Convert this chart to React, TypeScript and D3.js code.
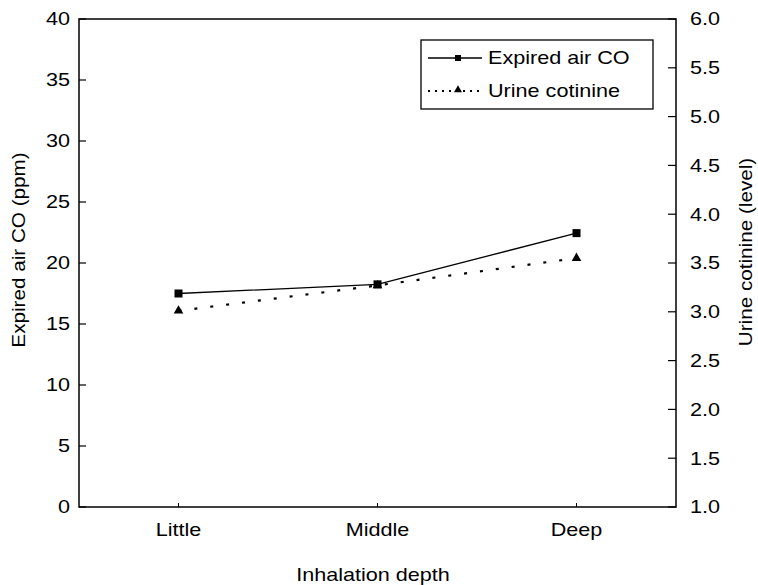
import React from "react";
import * as d3 from "d3";

const categories = ["Little", "Middle", "Deep"];
const coValues = [17.5, 18.25, 22.45];
const cotinineValues = [3.01, 3.27, 3.55];
const leftTicks = [0, 5, 10, 15, 20, 25, 30, 35, 40];
const rightTicks = [1.0, 1.5, 2.0, 2.5, 3.0, 3.5, 4.0, 4.5, 5.0, 5.5, 6.0];
const seriesNames = ["Expired air CO", "Urine cotinine"];

const FS = 18;
const SX = 1.2;

function T({ x, y, anchor = "start", rotate = 0, sx = SX, children }: any) {
  return (
    <g transform={`translate(${x},${y}) rotate(${rotate}) scale(${sx},1)`}>
      <text x={0} y={0} dy="0.35em" textAnchor={anchor} fontSize={FS}>{children}</text>
    </g>
  );
}

export default function App() {
  const W = 758, H = 585;
  const left = 79, right = 676, top = 19, bottom = 507;
  const x = d3.scaleBand<string>().domain(categories).range([left, right]);
  const yL = d3.scaleLinear().domain([0, 40]).range([bottom, top]);
  const yR = d3.scaleLinear().domain([1, 6]).range([bottom, top]);
  const cx = (c: string) => (x(c) as number) + x.bandwidth() / 2;
  const lineCO = d3.line<number>().x((_, i) => cx(categories[i])).y((d) => yL(d));
  const lineCot = d3.line<number>().x((_, i) => cx(categories[i])).y((d) => yR(d));
  const tri = d3.symbol().type(d3.symbolTriangle).size(40)();
  const font = "'Liberation Sans', Arial, sans-serif";
  const lgX = 421, lgY = 40, lgW = 232, lgH = 69;
  const r1 = lgY + 18, r2 = lgY + 51;
  return (
    <svg width={W} height={H} style={{ position: "absolute", left: 0, top: 0, background: "#fff" }} fontFamily={font}>
      <rect x={0} y={0} width={W} height={H} fill="#fff" />
      <rect x={left} y={top} width={right - left} height={bottom - top} fill="none" stroke="#000" strokeWidth={1.5} />
      {leftTicks.map((t) => (
        <g key={"l" + t}>
          <line x1={left} x2={left + 7} y1={yL(t)} y2={yL(t)} stroke="#000" strokeWidth={1.2} />
          <T x={left - 9} y={yL(t)} anchor="end">{t}</T>
        </g>
      ))}
      {rightTicks.map((t) => (
        <g key={"r" + t}>
          <line x1={right - 8} x2={right} y1={yR(t)} y2={yR(t)} stroke="#000" strokeWidth={1.2} />
          <T x={right + 14} y={yR(t)}>{t.toFixed(1)}</T>
        </g>
      ))}
      {categories.map((c) => (
        <g key={c}>
          <line x1={cx(c)} x2={cx(c)} y1={bottom} y2={bottom - 4} stroke="#000" strokeWidth={1} />
          <T x={cx(c)} y={530} anchor="middle">{c}</T>
        </g>
      ))}
      <T x={373} y={575} anchor="middle">Inhalation depth</T>
      <T x={19} y={250} anchor="middle" rotate={-90} sx={1.15}>Expired air CO (ppm)</T>
      <T x={746} y={252} anchor="middle" rotate={-90} sx={1.15}>Urine cotinine (level)</T>

      <path d={lineCO(coValues) as string} fill="none" stroke="#000" strokeWidth={1.3} />
      <path d={lineCot(cotinineValues) as string} fill="none" stroke="#000" strokeWidth={2.2} strokeDasharray="3,13" />
      {coValues.map((v, i) => (
        <rect key={"s" + i} x={cx(categories[i]) - 4} y={yL(v) - 4} width={8} height={8} fill="#000" />
      ))}
      {cotinineValues.map((v, i) => (
        <path key={"t" + i} d={tri as string} transform={`translate(${cx(categories[i])},${yR(v)})`} fill="#000" />
      ))}

      <rect x={lgX} y={lgY} width={lgW} height={lgH} fill="#fff" stroke="#000" strokeWidth={1.3} />
      <line x1={428} x2={482} y1={r1} y2={r1} stroke="#000" strokeWidth={1.3} />
      <rect x={455} y={r1 - 3} width={6} height={6} fill="#000" />
      <T x={488} y={r1}>{seriesNames[0]}</T>
      <line x1={428} x2={482} y1={r2} y2={r2} stroke="#000" strokeWidth={2} strokeDasharray="2,5" />
      <path d={d3.symbol().type(d3.symbolTriangle).size(28)() as string} transform={`translate(458,${r2 - 1})`} fill="#000" />
      <T x={488} y={r2}>{seriesNames[1]}</T>
    </svg>
  );
}
